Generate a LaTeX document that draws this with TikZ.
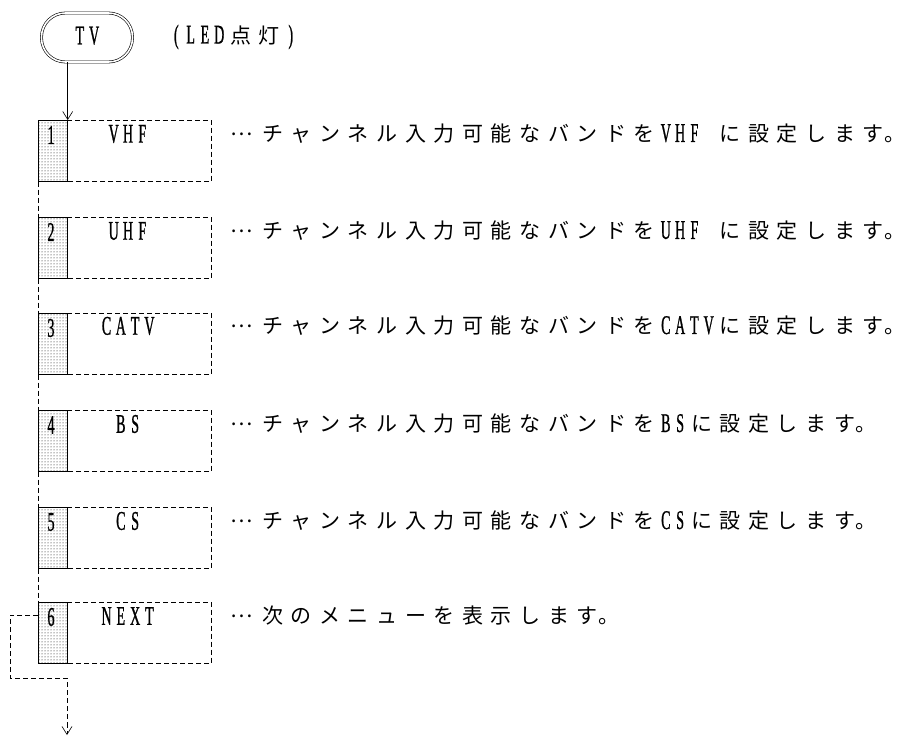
\documentclass[tikz,border=0pt]{standalone}
\usepackage{fontspec}
\newfontfamily\jfont{Noto Sans CJK JP}
\newfontfamily\lfont[FakeStretch=0.52,FakeBold=0.8]{Liberation Serif}
\usetikzlibrary{patterns,arrows.meta,calc}
\makeatletter
\def\gt#1{\gt@loop#1\gt@end}
\def\gt@end{\gt@end}
\def\gt@loop#1{\ifx#1\gt@end\else\gt@char{#1}\expandafter\gt@loop\fi}
\def\gt@char#1{\ifnum`#1>255 \makebox[28.6pt][c]{\fontsize{21}{24}\selectfont\jfont #1}\else\makebox[14.3pt][c]{\fontsize{27}{30}\selectfont\lfont #1}\fi}
\makeatother
\newcommand{\mdots}{\makebox[28.6pt][l]{\hspace{1pt}\raisebox{6.5pt}{\fontsize{21}{24}\selectfont\jfont …}}}
\newcommand{\jstop}{\makebox[12pt][l]{\hspace{-3pt}\fontsize{21}{24}\selectfont\jfont 。}}
\tikzset{
  dline/.style={line width=0.7pt, dash pattern=on 5pt off 3pt},
  numbox/.style={draw, line width=0.7pt, pattern=dots, pattern color=black, minimum width=29pt, minimum height=61pt, inner sep=0pt, anchor=north west},
  optbox/.style={minimum width=144pt, minimum height=61pt, inner sep=0pt, anchor=north west},
  txt/.style={inner sep=0pt},
  desc/.style={inner sep=0pt, anchor=west},
  arr/.style={line width=0.7pt, -{Straight Barb[length=8pt,width=10pt,line width=0.6pt]}},
}
\begin{document}
\begin{tikzpicture}[x=1pt,y=-1pt]
\useasboundingbox (0,0) rectangle (906,738);
% terminal
\node[draw, line width=0.6pt, double, double distance=1.6pt, rounded corners=24pt, minimum width=91pt, minimum height=49pt, inner sep=0pt] (tv) at (87,37.5) {\raisebox{4pt}{\gt{TV}}};
\node[txt, anchor=west] (led) at (169,37) {\gt{(LED点灯)}};
% boxes
\foreach \i/\t in {1/120,2/217,3/313,4/410,5/507,6/602}{
  \node[optbox] (b\i d) at (67,\t) {};
  \node[numbox] (b\i s) at (38,\t) {};
  \draw[dline] (b\i d.north west) -- (b\i d.north east) -- (b\i d.south east) -- (b\i d.south west);
  \node[txt] (n\i) at (51,\t+15) {\gt{\i}};
}
\node[txt] (l1) at (128,134) {\gt{VHF}};
\node[txt] (l2) at (128,231) {\gt{UHF}};
\node[txt] (l3) at (128,326) {\gt{CATV}};
\node[txt] (l4) at (128,424) {\gt{BS}};
\node[txt] (l5) at (128,521) {\gt{CS}};
\node[txt] (l6) at (128,616) {\gt{NEXT}};
\node[desc] (d1) at (229.5,134) {\mdots\gt{チャンネル入力可能なバンドをVHF\ に設定します}\jstop};
\node[desc] (d2) at (229.5,231) {\mdots\gt{チャンネル入力可能なバンドをUHF\ に設定します}\jstop};
\node[desc] (d3) at (229.5,326) {\mdots\gt{チャンネル入力可能なバンドをCATVに設定します}\jstop};
\node[desc] (d4) at (229.5,424) {\mdots\gt{チャンネル入力可能なバンドをBSに設定します}\jstop};
\node[desc] (d5) at (229.5,521) {\mdots\gt{チャンネル入力可能なバンドをCSに設定します}\jstop};
\node[desc] (d6) at (229.5,616) {\mdots\gt{次のメニューを表示します}\jstop};
% connectors
\draw[arr] (b1s.north east |- tv.south) -- (b1s.north east);
\foreach \a/\b in {1/2,2/3,3/4,4/5,5/6}{
  \draw[dline] (b\a s.south west) -- (b\b s.north west);
}
\coordinate (out) at (67,735);
\draw[dline] ($(b6s.north west)+(0,13)$) -| (10,678) -| ($(out)+(0,-12)$);
\draw[arr, dash pattern=on 5pt off 3pt] ($(out)+(0,-12)$) -- (out);
\end{tikzpicture}
\end{document}
